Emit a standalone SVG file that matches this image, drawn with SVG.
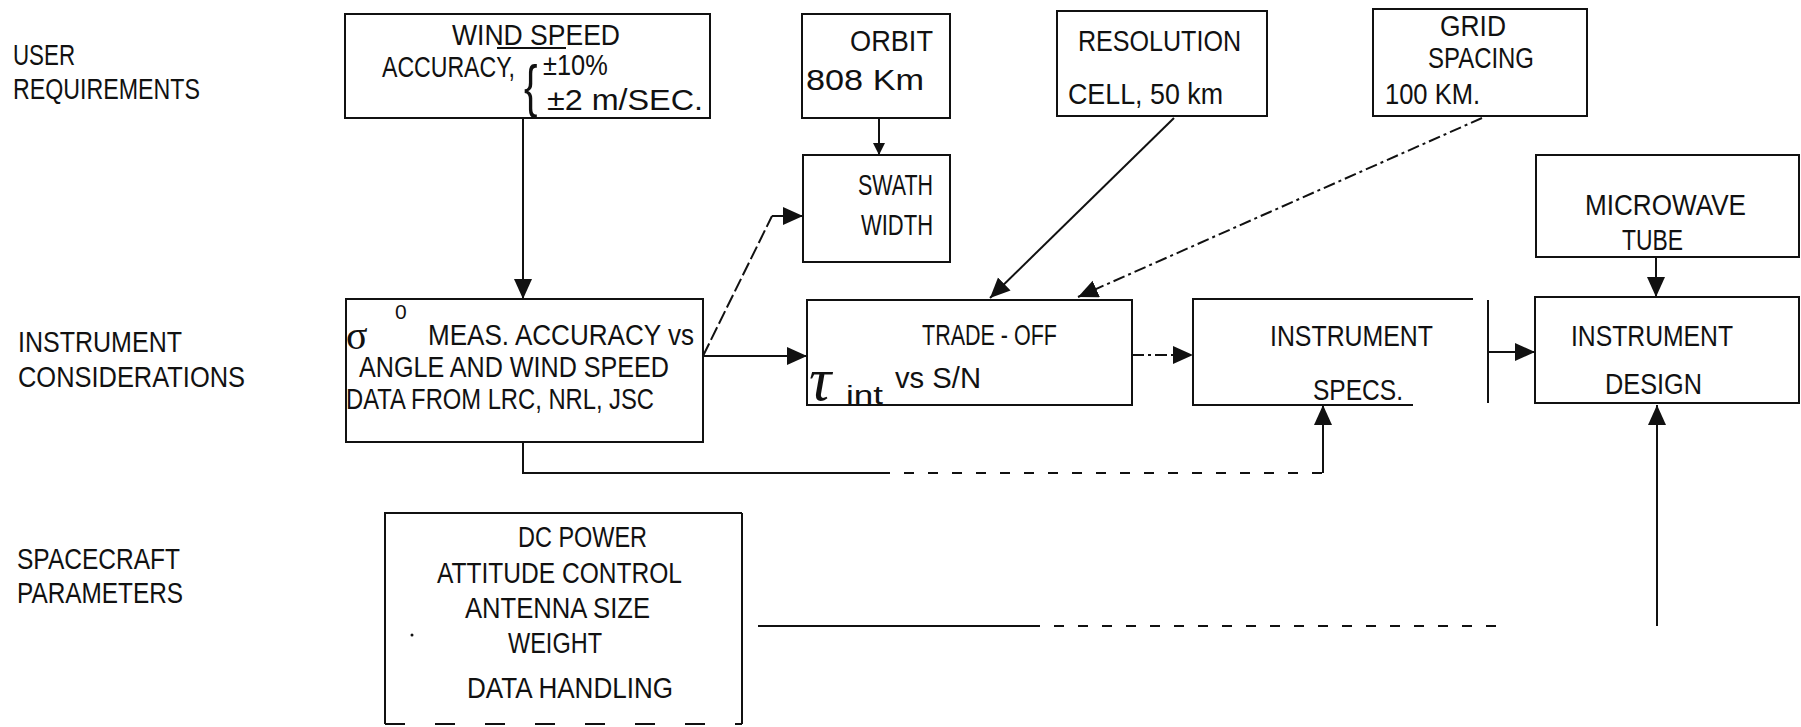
<svg xmlns="http://www.w3.org/2000/svg" width="1801" height="727" viewBox="0 0 1801 727">
<style>
text{font-family:"Liberation Sans",Arial,sans-serif;font-size:30px;fill:#111}
.box{fill:none;stroke:#111;stroke-width:2}
.ln{fill:none;stroke:#111;stroke-width:2}
.dash{stroke-dasharray:14 4}
.dashdot{stroke-dasharray:12 4 3 4}
.faint{stroke-dasharray:10 14}
</style>
<defs>
<marker id="ah" markerUnits="userSpaceOnUse" markerWidth="22" markerHeight="20" refX="20" refY="9" orient="auto">
<path d="M0,0 L20,9 L0,18 z" fill="#111"/>
</marker>
<marker id="ahs" markerUnits="userSpaceOnUse" markerWidth="14" markerHeight="14" refX="12" refY="6" orient="auto">
<path d="M0,0 L12,6 L0,12 z" fill="#111"/>
</marker>
</defs>
<rect width="1801" height="727" fill="#fff"/>

<g id="labels">
<text x="13" y="65" textLength="62" lengthAdjust="spacingAndGlyphs">USER</text>
<text x="13" y="99" textLength="187" lengthAdjust="spacingAndGlyphs">REQUIREMENTS</text>
<text x="18" y="352" textLength="164" lengthAdjust="spacingAndGlyphs">INSTRUMENT</text>
<text x="18" y="387" textLength="227" lengthAdjust="spacingAndGlyphs">CONSIDERATIONS</text>
<text x="17" y="569" textLength="163" lengthAdjust="spacingAndGlyphs">SPACECRAFT</text>
<text x="17" y="603" textLength="166" lengthAdjust="spacingAndGlyphs">PARAMETERS</text>
</g>

<g id="wind">
<rect class="box" x="345" y="14" width="365" height="104"/>
<text x="452" y="45" textLength="168" lengthAdjust="spacingAndGlyphs">WIND SPEED</text>
<path class="ln" d="M497,48 H566" stroke-width="1.5"/>
<text transform="translate(382 77) scale(0.77 1)">ACCURACY,</text>
<text transform="translate(524 106) scale(0.7 1)" style="font-size:58px">{</text>
<text transform="translate(543 75) scale(0.846 1)">±10%</text>
<text x="547" y="110" textLength="156" lengthAdjust="spacingAndGlyphs">±2 m/SEC.</text>
</g>

<g id="orbit">
<rect class="box" x="802" y="14" width="148" height="104"/>
<text x="850" y="51" textLength="83" lengthAdjust="spacingAndGlyphs">ORBIT</text>
<text x="806" y="90" textLength="118" lengthAdjust="spacingAndGlyphs">808 Km</text>
</g>

<g id="resolution">
<rect class="box" x="1057" y="11" width="210" height="105"/>
<text x="1078" y="51" textLength="163" lengthAdjust="spacingAndGlyphs">RESOLUTION</text>
<text x="1068" y="104" textLength="155" lengthAdjust="spacingAndGlyphs">CELL, 50 km</text>
</g>

<g id="grid">
<rect class="box" x="1373" y="9" width="214" height="107"/>
<text x="1440" y="36" textLength="66" lengthAdjust="spacingAndGlyphs">GRID</text>
<text x="1428" y="68" textLength="106" lengthAdjust="spacingAndGlyphs">SPACING</text>
<text x="1385" y="104" textLength="95" lengthAdjust="spacingAndGlyphs">100 KM.</text>
</g>

<g id="swath">
<rect class="box" x="803" y="155" width="147" height="107"/>
<text x="858" y="195" textLength="75" lengthAdjust="spacingAndGlyphs">SWATH</text>
<text x="861" y="235" textLength="72" lengthAdjust="spacingAndGlyphs">WIDTH</text>
</g>

<g id="microwave">
<rect class="box" x="1536" y="155" width="263" height="102"/>
<text x="1585" y="215" textLength="161" lengthAdjust="spacingAndGlyphs">MICROWAVE</text>
<text x="1622" y="250" textLength="61" lengthAdjust="spacingAndGlyphs">TUBE</text>
</g>

<g id="sigma">
<rect class="box" x="346" y="299" width="357" height="143"/>
<text x="346" y="349" style="font-size:40px;font-family:'Liberation Serif',serif">σ</text>
<text x="395" y="319" style="font-size:21px">0</text>
<text x="428" y="345" textLength="266" lengthAdjust="spacingAndGlyphs">MEAS.  ACCURACY vs</text>
<text x="359" y="377" textLength="310" lengthAdjust="spacingAndGlyphs">ANGLE AND WIND SPEED</text>
<text x="346" y="409" textLength="308" lengthAdjust="spacingAndGlyphs">DATA FROM LRC, NRL, JSC</text>
</g>

<g id="tradeoff">
<rect class="box" x="807" y="300" width="325" height="105"/>
<text x="922" y="345" textLength="135" lengthAdjust="spacingAndGlyphs">TRADE - OFF</text>
<text x="809" y="400" style="font-size:62px;font-family:'Liberation Serif',serif;font-style:italic">τ</text>
<text x="846" y="404" textLength="37" lengthAdjust="spacingAndGlyphs" style="font-size:26px">int</text>
<text x="895" y="388" textLength="86" lengthAdjust="spacingAndGlyphs">vs  S/N</text>
</g>

<g id="specs">
<path class="box" d="M1473,299 H1193 V405 H1413"/>
<path class="ln" d="M1488,300 V403"/>
<text x="1270" y="346" textLength="163" lengthAdjust="spacingAndGlyphs">INSTRUMENT</text>
<text x="1313" y="400" textLength="90" lengthAdjust="spacingAndGlyphs">SPECS.</text>
</g>

<g id="design">
<rect class="box" x="1535" y="297" width="264" height="106"/>
<text x="1571" y="346" textLength="162" lengthAdjust="spacingAndGlyphs">INSTRUMENT</text>
<text x="1605" y="394" textLength="97" lengthAdjust="spacingAndGlyphs">DESIGN</text>
</g>

<g id="spacecraft">
<path class="box" d="M742,513 H385 V724"/>
<path class="box" d="M742,513 V724"/>
<path class="box" d="M385,724 H742" style="stroke-dasharray:20 30"/>
<circle cx="412" cy="635" r="1.5" fill="#111"/>
<text x="518" y="547" textLength="129" lengthAdjust="spacingAndGlyphs">DC POWER</text>
<text x="437" y="583" textLength="245" lengthAdjust="spacingAndGlyphs">ATTITUDE CONTROL</text>
<text x="465" y="618" textLength="185" lengthAdjust="spacingAndGlyphs">ANTENNA SIZE</text>
<text x="508" y="653" textLength="94" lengthAdjust="spacingAndGlyphs">WEIGHT</text>
<text x="467" y="698" textLength="206" lengthAdjust="spacingAndGlyphs">DATA HANDLING</text>
</g>

<g id="connectors">
<path class="ln" d="M523,118 V299" marker-end="url(#ah)"/>
<path class="ln" d="M879,118 V155" marker-end="url(#ahs)"/>
<path class="ln dash" d="M703,356 L772,216"/>
<path class="ln" d="M772,216 H803" marker-end="url(#ah)"/>
<path class="ln" d="M703,356 H807" marker-end="url(#ah)"/>
<path class="ln" d="M1174,118 L990,298" marker-end="url(#ah)"/>
<path class="ln dashdot" d="M1482,118 L1078,297" marker-end="url(#ah)"/>
<path class="ln dashdot" d="M1132,355 H1193" marker-end="url(#ah)"/>
<path class="ln" d="M1488,352 H1535" marker-end="url(#ah)"/>
<path class="ln" d="M1656,257 V297" marker-end="url(#ah)"/>
<path class="ln" d="M523,442 V473 H880"/>
<path class="ln faint" d="M880,473 H1323"/>
<path class="ln" d="M1323,473 V405" marker-end="url(#ah)"/>
<path class="ln" d="M758,626 H1030"/>
<path class="ln faint" d="M1030,626 H1500"/>
<path class="ln" d="M1657,626 V405" marker-end="url(#ah)"/>
</g>
</svg>
